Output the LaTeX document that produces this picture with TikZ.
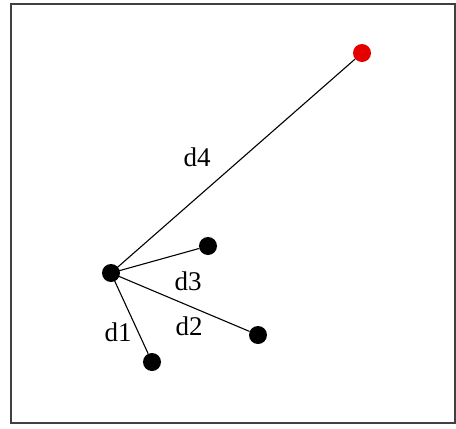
\documentclass[tikz,border=0pt]{standalone}
\usepackage{fontspec}
\setmainfont{Liberation Serif}
\begin{document}
\begin{tikzpicture}[x=1pt,y=-1pt,
  dot/.style={circle,fill=black,inner sep=0pt,minimum size=18pt},
  reddot/.style={circle,fill=red!90!black,inner sep=0pt,minimum size=18pt},
  lbl/.style={font=\fontsize{27}{29}\selectfont,inner sep=0pt},
  conn/.style={line width=1.1pt}]
\useasboundingbox (0,0) rectangle (456,429);
\draw[line width=2pt,black!75] (10.5,4) rectangle (455,423);
\node[dot] (c) at (111,273) {};
\node[dot] (a3) at (208,246) {};
\node[dot] (a2) at (258,335) {};
\node[dot] (a1) at (152,362) {};
\node[reddot] (r) at (362,53) {};
\draw[conn] (c.center) -- (r);
\draw[conn] (c.center) -- (a3);
\draw[conn] (c.center) -- (a2);
\draw[conn] (c.center) -- (a1);
\node[lbl] (l4) at (197,157) {d4};
\node[lbl] (l3) at (188,281) {d3};
\node[lbl] (l2) at (189,326) {d2};
\node[lbl] (l1) at (118,332) {d1};
\end{tikzpicture}
\end{document}
